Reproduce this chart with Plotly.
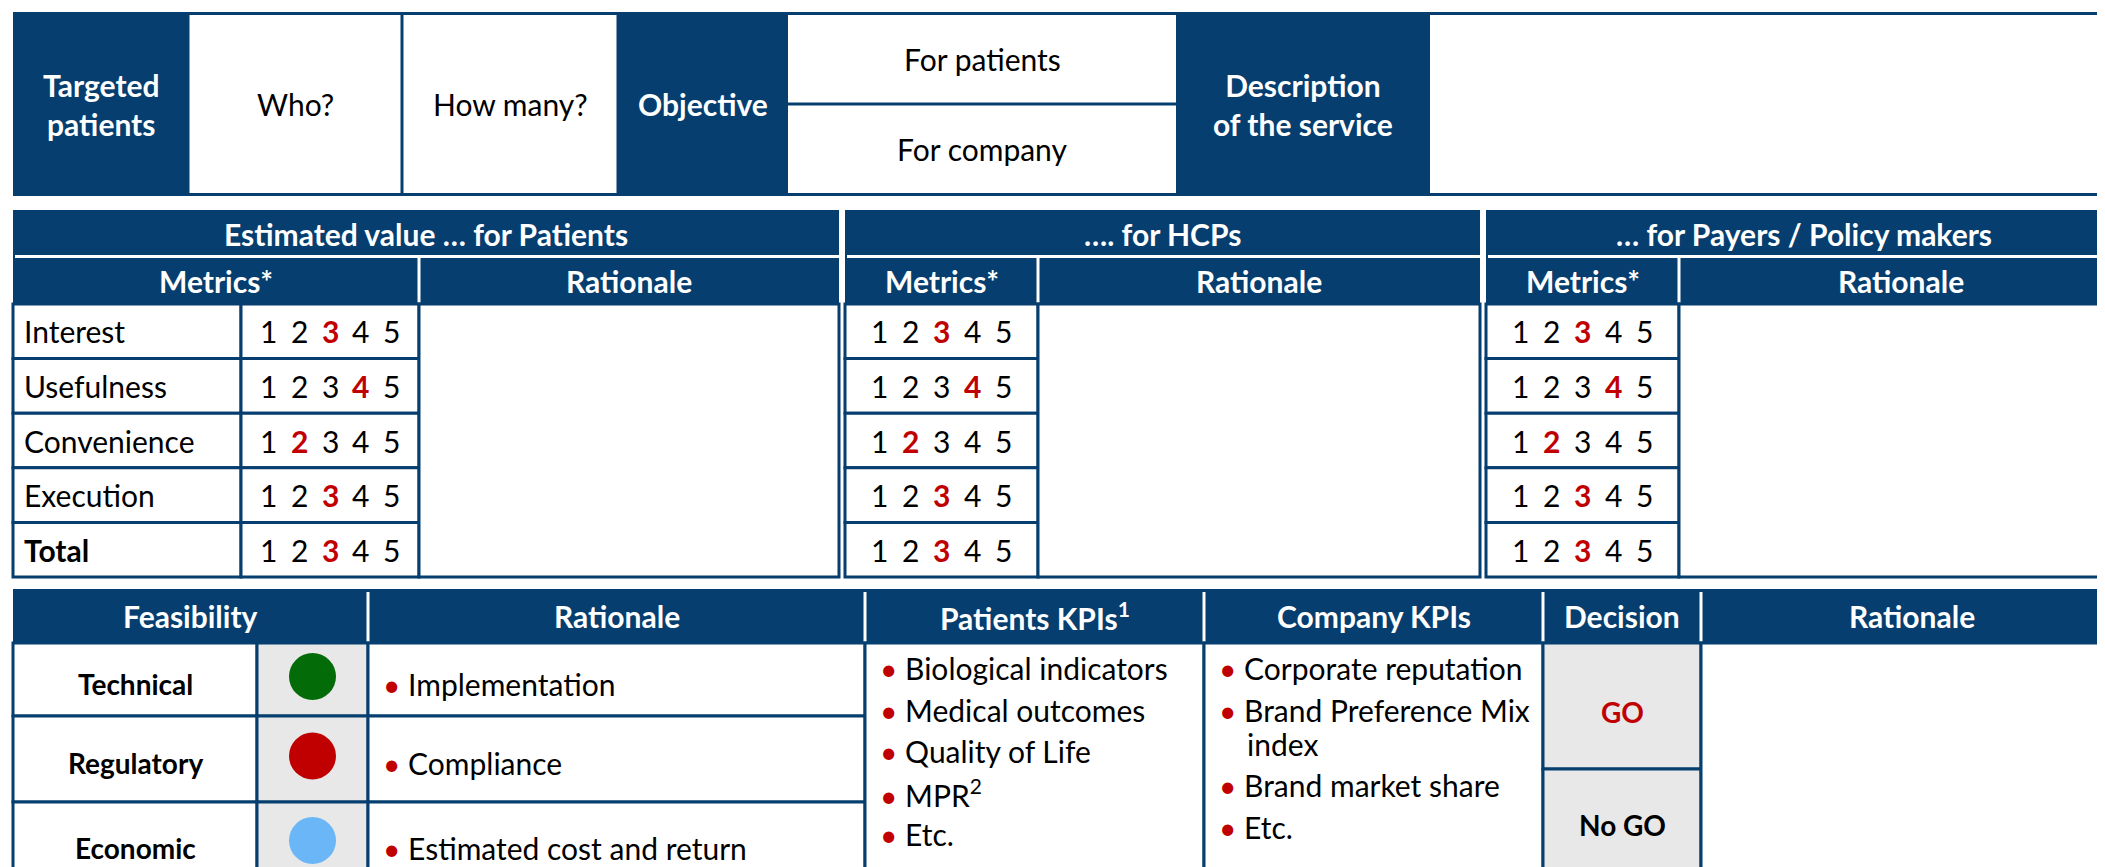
import plotly.graph_objects as go

# ---------------- data ----------------
top_headers = ["Targeted<br>patients", "Objective", "Description<br>of the service"]
target_questions = ["Who?", "How many?"]
objectives = ["For patients", "For company"]

group_titles = ["Estimated value … for Patients", "…. for HCPs", "… for Payers / Policy makers"]
metrics = ["Interest", "Usefulness", "Convenience", "Execution", "Total"]
scale_values = [1, 2, 3, 4, 5]
scores_patients = [3, 4, 2, 3, 3]
scores_hcps = [3, 4, 2, 3, 3]
scores_payers = [3, 4, 2, 3, 3]

bottom_headers = ["Feasibility", "Rationale", "Patients KPIs<sup>1</sup>", "Company KPIs", "Decision", "Rationale"]
feasibility = ["Technical", "Regulatory", "Economic"]
feasibility_status = ["#036B07", "#C00000", "#6BB6F7"]
feasibility_rationale = ["Implementation", "Compliance", "Estimated cost and return"]
patient_kpis = ["Biological indicators", "Medical outcomes", "Quality of Life", "MPR<sup>2</sup>", "Etc."]
company_kpis = ["Corporate reputation", "Brand Preference Mix<br>index", "Brand market share", "Etc."]
decisions = ["GO", "No GO"]
decision_selected = "GO"

# ---------------- style / layout ----------------
NAVY = "#053E6F"
RED = "#C00000"
GRAY = "#E8E8E8"
FONT = "Lato"
FS = 30
W, H = 2105, 867
PAGE_OFFSET = 8  # default body margin of the html page

shapes = []
ann = []


def rect(x0, y0, x1, y1, fill="white", line=NAVY, lw=3):
    shapes.append(dict(type="rect", xref="x", yref="y", x0=x0, y0=y0, x1=x1, y1=y1,
                       fillcolor=fill, line=dict(color=line, width=lw), layer="below"))


def hline(x0, x1, y, color="white", lw=3):
    shapes.append(dict(type="line", xref="x", yref="y", x0=x0, x1=x1, y0=y, y1=y,
                       line=dict(color=color, width=lw), layer="below"))


def vline(x, y0, y1, color="white", lw=3):
    shapes.append(dict(type="line", xref="x", yref="y", x0=x, x1=x, y0=y0, y1=y1,
                       line=dict(color=color, width=lw), layer="below"))


def text(x, y, s, color="black", size=FS, bold=False, xanchor="center"):
    if bold:
        s = "<b>" + s + "</b>"
    ann.append(dict(x=x, y=y, xref="x", yref="y", text=s, showarrow=False,
                    xanchor=xanchor, yanchor="middle",
                    font=dict(family=FONT, size=size, color=color)))


# ---------- top band ----------
TX = [13, 188, 402, 618, 788, 1176, 1430, 2130]
TY0, TY1 = 12, 196
rect(TX[0], TY0, TX[-1], TY1, fill=NAVY, line=NAVY, lw=0)
ymid = (TY0 + TY1) / 2
text((TX[0] + TX[1]) / 2, ymid, top_headers[0], color="white", bold=True)
for i, q in enumerate(target_questions):
    x0, x1 = TX[1 + i] + 1.5, TX[2 + i] - 1.5
    rect(x0, TY0 + 3, x1, TY1 - 3, line="white", lw=0)
    text((x0 + x1) / 2, ymid, q)
text((TX[3] + TX[4]) / 2, ymid, top_headers[1], color="white", bold=True)
obj_split = (TY0 + TY1) / 2
for i, o in enumerate(objectives):
    y0 = TY0 + 3 if i == 0 else obj_split + 1.5
    y1 = obj_split - 1.5 if i == 0 else TY1 - 3
    rect(TX[4], y0, TX[5], y1, line="white", lw=0)
    text((TX[4] + TX[5]) / 2, (y0 + y1) / 2, o)
text((TX[5] + TX[6]) / 2, ymid, top_headers[2], color="white", bold=True)
rect(TX[6], TY0 + 3, TX[7], TY1 - 3, line="white", lw=0)

# ---------- estimated value blocks ----------
blocks = [
    dict(x0=13, lab=241, num=419, x1=839, scores=scores_patients),
    dict(x0=845, lab=None, num=1038, x1=1480, scores=scores_hcps),
    dict(x0=1486, lab=None, num=1679, x1=2122, scores=scores_payers),
]
HY0, HMID, HY1 = 210, 256.5, 304
RY = [304 + i * (577 - 304) / len(metrics) for i in range(len(metrics) + 1)]
DIGIT_GAP = 30.8

for b, title in zip(blocks, group_titles):
    rect(b["x0"], HY0, b["x1"], HY1, fill=NAVY, line=NAVY, lw=0)
    hline(b["x0"] + 2, b["x1"], HMID)
    vline(b["num"], HMID + 1, HY1)
    text((b["x0"] + b["x1"]) / 2, (HY0 + HMID) / 2 + 1, title, color="white", bold=True)
    text((b["x0"] + b["num"]) / 2, (HMID + HY1) / 2 + 1, "Metrics*", color="white", bold=True)
    text((b["num"] + b["x1"]) / 2, (HMID + HY1) / 2 + 1, "Rationale", color="white", bold=True)
    numx0 = b["lab"] if b["lab"] is not None else b["x0"]
    for r, m in enumerate(metrics):
        y0, y1 = RY[r], RY[r + 1]
        yc = (y0 + y1) / 2
        if b["lab"] is not None:
            rect(b["x0"], y0, b["lab"], y1)
            text(b["x0"] + 9, yc, m, bold=(m == "Total"), xanchor="left")
        rect(numx0, y0, b["num"], y1)
        cx = (numx0 + b["num"]) / 2
        for v in scale_values:
            sel = v == b["scores"][r]
            text(cx + (v - 3) * DIGIT_GAP, yc, str(v), color=RED if sel else "black", bold=sel)
    rect(b["num"], RY[0], b["x1"], RY[-1])

# ---------- bottom section ----------
BX = [13, 257, 368, 865, 1204, 1543, 1701, 2130]
BH0, BH1 = 589, 643
BR = [643, 716, 802, 885]
DEC_SPLIT = 769
rect(BX[0], BH0, BX[-1], BH1, fill=NAVY, line=NAVY, lw=0)
for x in BX[2:-1]:
    vline(x, BH0 + 3, BH1)
hx = [(BX[0] + BX[2]) / 2] + [(BX[i] + BX[i + 1]) / 2 for i in range(2, 6)] + [(BX[6] + 2122) / 2]
for x, h in zip(hx, bottom_headers):
    text(x, (BH0 + BH1) / 2, h, color="white", bold=True)

BUL = '<span style="color:%s">•</span> ' % RED
BUL_DX, HANG_DX = 13, 41
circle_x, circle_y, circle_c = [], [], []
for r, (f, c, rat) in enumerate(zip(feasibility, feasibility_status, feasibility_rationale)):
    y0, y1 = BR[r], BR[r + 1]
    yc = (y0 + y1) / 2
    rect(BX[0], y0, BX[1], y1)
    rect(BX[1], y0, BX[2], y1, fill=GRAY)
    rect(BX[2], y0, BX[3], y1)
    text((BX[0] + BX[1]) / 2, yc + 4, f, bold=True, size=FS - 2)
    text(BX[2] + BUL_DX, yc + 4, BUL + rat, xanchor="left")
    circle_x.append((BX[1] + BX[2]) / 2)
    circle_y.append(yc - 3)
    circle_c.append(c)

# KPI columns
rect(BX[3], BR[0], BX[4], BR[-1])
rect(BX[4], BR[0], BX[5], BR[-1])
KPI_Y0, PARA, LINE = 668, 41.5, 34
for col, items in ((3, patient_kpis), (4, company_kpis)):
    y = KPI_Y0
    for it in items:
        lines = it.split("<br>")
        text(BX[col] + BUL_DX, y, BUL + lines[0], xanchor="left")
        for extra in lines[1:]:
            y += LINE
            text(BX[col] + HANG_DX, y, extra, xanchor="left")
        y += PARA

# decision
for i, d in enumerate(decisions):
    y0 = BR[0] if i == 0 else DEC_SPLIT
    y1 = DEC_SPLIT if i == 0 else BR[-1]
    rect(BX[5], y0, BX[6], y1, fill=GRAY)
    yc = (y0 + y1) / 2 + (6 if i == 0 else -2)
    text((BX[5] + BX[6]) / 2, yc, d, bold=True, size=FS - 2,
         color=RED if d == decision_selected else "black")
rect(BX[6], BR[0], BX[7], BR[-1])

fig = go.Figure()
fig.add_trace(go.Scatter(x=circle_x, y=circle_y, mode="markers",
                         marker=dict(size=47, color=circle_c, line=dict(width=0)),
                         hoverinfo="skip", showlegend=False))
fig.update_layout(
    width=W, height=H, margin=dict(l=0, r=0, t=0, b=0),
    paper_bgcolor="white", plot_bgcolor="white",
    xaxis=dict(range=[PAGE_OFFSET, W + PAGE_OFFSET], visible=False, fixedrange=True),
    yaxis=dict(range=[H + PAGE_OFFSET, PAGE_OFFSET], visible=False, fixedrange=True),
    shapes=shapes, annotations=ann, showlegend=False,
)
fig.write_html("out.html")
